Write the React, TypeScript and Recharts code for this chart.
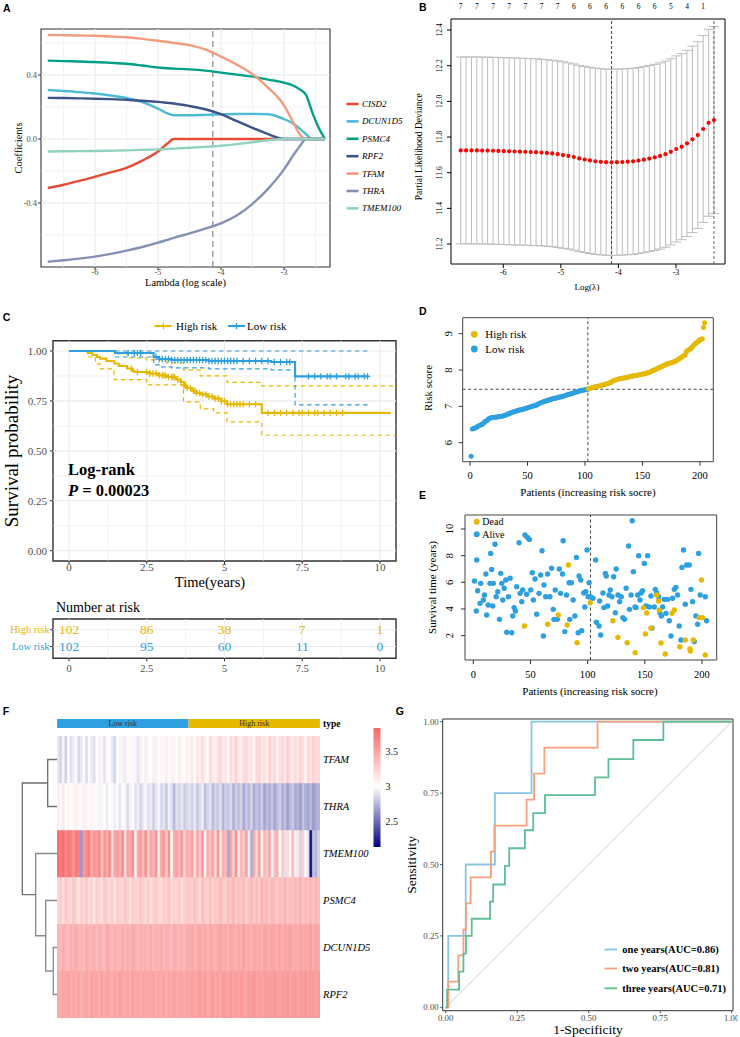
import React from 'react';
import {
  LineChart, Line, XAxis, YAxis, ReferenceLine, ReferenceArea,
  ScatterChart, Scatter, ErrorBar, ComposedChart, BarChart, Bar, Cell, LabelList,
} from 'recharts';

const SERIF = '"Liberation Serif", "DejaVu Serif", serif';
const SANS = '"Liberation Sans", "DejaVu Sans", sans-serif';
const HIGH_COLOR = '#E7B800';
const LOW_COLOR = '#2E9FDF';
const GRID = '#EBEBEB';

/* ================= Panel A : LASSO coefficient paths ================= */
const lassoGenes = ['CISD2', 'DCUN1D5', 'PSMC4', 'RPF2', 'TFAM', 'THRA', 'TMEM100'];
const lassoColors = ['#E64B35', '#4DBBD5', '#00A087', '#3C5488', '#F39B7F', '#8491B4', '#91D1C2'];
const lassoLogLambda = [-6.75, -6.5, -6.25, -6.0, -5.75, -5.5, -5.25, -5.0, -4.85, -4.75, -4.5, -4.25, -4.0, -3.75, -3.5, -3.25, -3.0, -2.85, -2.75, -2.65, -2.55, -2.45, -2.35];
const coefCISD2 = [-0.306, -0.286, -0.262, -0.236, -0.209, -0.18, -0.135, -0.078, -0.028, 0, 0, 0, 0, 0, 0, 0, 0, 0, 0, 0, 0, 0, 0];
const coefDCUN1D5 = [0.306, 0.3, 0.293, 0.284, 0.272, 0.256, 0.23, 0.19, 0.16, 0.148, 0.148, 0.151, 0.154, 0.156, 0.157, 0.155, 0.125, 0.095, 0.065, 0.03, 0, 0, 0];
const coefPSMC4 = [0.49, 0.487, 0.484, 0.481, 0.476, 0.47, 0.459, 0.447, 0.442, 0.44, 0.435, 0.427, 0.415, 0.402, 0.39, 0.371, 0.352, 0.333, 0.31, 0.275, 0.165, 0.07, 0];
const coefRPF2 = [0.257, 0.256, 0.254, 0.252, 0.249, 0.245, 0.239, 0.232, 0.226, 0.222, 0.206, 0.186, 0.155, 0.112, 0.07, 0.03, 0, 0, 0, 0, 0, 0, 0];
const coefTFAM = [0.65, 0.649, 0.647, 0.645, 0.641, 0.636, 0.626, 0.614, 0.606, 0.6, 0.587, 0.56, 0.515, 0.465, 0.405, 0.32, 0.21, 0.1, 0.03, 0, 0, 0, 0];
const coefTHRA = [-0.767, -0.758, -0.748, -0.735, -0.718, -0.698, -0.675, -0.648, -0.63, -0.618, -0.59, -0.56, -0.527, -0.478, -0.405, -0.31, -0.19, -0.1, -0.045, 0, 0, 0, 0];
const coefTMEM100 = [-0.078, -0.077, -0.076, -0.075, -0.073, -0.071, -0.068, -0.065, -0.062, -0.06, -0.055, -0.049, -0.042, -0.032, -0.02, -0.008, 0, 0, 0, 0, 0, 0, 0];
const lassoCoefs = [coefCISD2, coefDCUN1D5, coefPSMC4, coefRPF2, coefTFAM, coefTHRA, coefTMEM100];
const lassoSelectedLambda = -4.13;
const aXTicks = [-6, -5, -4, -3];
const aXMinor = [-6.5, -5.5, -4.5, -3.5, -2.5];
const aYTicks = [-0.4, 0, 0.4];
const aYMinor = [-0.6, -0.2, 0.2, 0.6];

/* ================= Panel B : cross-validation ================= */
const cvLogLambda = [-6.74, -6.646, -6.553, -6.459, -6.366, -6.272, -6.178, -6.085, -5.991, -5.898, -5.804, -5.71, -5.617, -5.523, -5.43, -5.336, -5.242, -5.149, -5.055, -4.962, -4.868, -4.774, -4.681, -4.587, -4.494, -4.4, -4.306, -4.213, -4.119, -4.026, -3.932, -3.838, -3.745, -3.651, -3.558, -3.464, -3.37, -3.277, -3.183, -3.09, -2.996, -2.902, -2.809, -2.715, -2.622, -2.528, -2.434, -2.341];
const cvMean = [11.725, 11.725, 11.725, 11.725, 11.724, 11.724, 11.723, 11.722, 11.721, 11.72, 11.719, 11.718, 11.717, 11.716, 11.715, 11.713, 11.711, 11.708, 11.704, 11.699, 11.694, 11.688, 11.68, 11.674, 11.669, 11.664, 11.661, 11.659, 11.658, 11.659, 11.66, 11.662, 11.664, 11.668, 11.673, 11.679, 11.686, 11.694, 11.704, 11.717, 11.733, 11.746, 11.764, 11.787, 11.811, 11.845, 11.88, 11.895];
const cvSd = [0.524, 0.524, 0.524, 0.524, 0.524, 0.524, 0.524, 0.524, 0.524, 0.524, 0.524, 0.524, 0.524, 0.524, 0.524, 0.523, 0.523, 0.523, 0.523, 0.523, 0.522, 0.522, 0.522, 0.522, 0.522, 0.522, 0.522, 0.522, 0.522, 0.522, 0.522, 0.522, 0.522, 0.522, 0.522, 0.522, 0.522, 0.522, 0.522, 0.522, 0.522, 0.522, 0.522, 0.523, 0.523, 0.524, 0.524, 0.525];
const cvTopTicks = [-6.74, -6.459, -6.178, -5.898, -5.617, -5.336, -5.055, -4.774, -4.494, -4.213, -3.932, -3.651, -3.37, -3.09, -2.809, -2.528];
const cvNonzero = [7, 7, 7, 7, 7, 7, 7, 6, 6, 6, 6, 6, 6, 5, 4, 1];
const cvLambdaMin = -4.119;
const cvLambda1se = -2.341;
const bXTicks = [-6, -5, -4, -3];
const bYTicks = [11.2, 11.4, 11.6, 11.8, 12.0, 12.2, 12.4];

/* ================= Panel C : Kaplan-Meier ================= */
const kmHighTime = [0, 0.6, 0.75, 0.9, 1.0, 1.2, 1.45, 1.6, 1.87, 2.05, 2.1, 2.6, 2.9, 3.15, 3.45, 3.6, 3.7, 3.8, 3.95, 4.1, 4.22, 4.45, 4.65, 4.9, 5.08, 6.2, 10.35];
const kmHighSurv = [1, 0.99, 0.98, 0.97, 0.962, 0.95, 0.937, 0.925, 0.912, 0.9, 0.895, 0.887, 0.878, 0.87, 0.857, 0.845, 0.827, 0.815, 0.8, 0.79, 0.783, 0.772, 0.762, 0.748, 0.733, 0.69, 0.69];
const kmLowTime = [0, 1.48, 2.72, 2.9, 3.3, 4.5, 6.5, 7.27, 9.63];
const kmLowSurv = [1, 0.99, 0.97, 0.96, 0.955, 0.95, 0.945, 0.873, 0.873];
const ciHighUpTime = [0.6, 1.45, 1.9, 2.5, 3.15, 3.68, 4.22, 5.08, 6.2, 10.5];
const ciHighUp = [1, 0.985, 0.965, 0.955, 0.94, 0.905, 0.875, 0.843, 0.825, 0.825];
const ciHighLoTime = [0.6, 0.85, 1.0, 1.45, 2.5, 3.68, 4.22, 4.65, 5.08, 6.2, 10.5];
const ciHighLo = [0.97, 0.935, 0.91, 0.857, 0.83, 0.745, 0.71, 0.69, 0.645, 0.578, 0.578];
const ciLowUpTime = [1.48, 9.63];
const ciLowUp = [1, 1];
const ciLowLoTime = [1.48, 2.72, 2.9, 3.3, 4.5, 6.5, 7.27, 9.63];
const ciLowLo = [0.97, 0.93, 0.92, 0.915, 0.91, 0.905, 0.73, 0.73];
const kmHighCensor = [2.0, 2.2, 2.5, 2.6, 2.7, 2.8, 2.9, 3.0, 3.05, 3.1, 3.2, 3.3, 3.35, 3.4, 3.5, 3.6, 3.7, 3.75, 3.8, 3.9, 4.0, 4.05, 4.1, 4.2, 4.3, 4.4, 4.5, 4.6, 4.7, 4.8, 4.9, 5.0, 5.1, 5.2, 5.3, 5.4, 5.5, 5.6, 5.8, 6.0, 6.4, 6.6, 6.8, 7.0, 7.2, 7.4, 7.5, 7.7, 7.9, 8.0, 8.2, 8.4, 8.6, 8.8];
const kmLowCensor = [1.9, 2.1, 2.2, 2.3, 2.8, 2.9, 3.0, 3.1, 3.2, 3.3, 3.4, 3.5, 3.6, 3.7, 3.8, 3.9, 4.0, 4.1, 4.2, 4.3, 4.4, 4.5, 4.6, 4.7, 4.8, 4.9, 5.0, 5.1, 5.2, 5.3, 5.4, 5.6, 5.8, 6.0, 6.2, 6.4, 6.6, 6.8, 7.0, 7.1, 7.7, 7.9, 8.1, 8.3, 8.4, 8.6, 8.9, 9.0, 9.2, 9.3, 9.5, 9.6];
const cXTicks = [0, 2.5, 5, 7.5, 10];
const cXMinor = [1.25, 3.75, 6.25, 8.75];
const cYTicks = [0, 0.25, 0.5, 0.75, 1];
const cYMinor = [0.125, 0.375, 0.625, 0.875];
const riskTableTimes = [0, 2.5, 5, 7.5, 10];
const riskTableHigh = [102, 86, 38, 7, 1];
const riskTableLow = [102, 95, 60, 11, 0];

/* ================= Panel D : risk score ================= */
const riskScores = [
  5.63, 6.38, 6.39, 6.40, 6.41, 6.43, 6.45, 6.47, 6.48, 6.50,
  6.52, 6.54, 6.58, 6.60, 6.62, 6.65, 6.67, 6.68, 6.69, 6.69,
  6.70, 6.70, 6.71, 6.71, 6.72, 6.72, 6.73, 6.73, 6.74, 6.75,
  6.76, 6.77, 6.79, 6.80, 6.81, 6.83, 6.84, 6.85, 6.86, 6.87,
  6.88, 6.89, 6.90, 6.91, 6.91, 6.92, 6.93, 6.94, 6.95, 6.96,
  6.97, 6.98, 6.99, 7.00, 7.01, 7.02, 7.03, 7.04, 7.06, 7.08,
  7.09, 7.10, 7.12, 7.13, 7.14, 7.15, 7.16, 7.17, 7.18, 7.19,
  7.20, 7.21, 7.22, 7.22, 7.23, 7.24, 7.25, 7.26, 7.26, 7.27,
  7.28, 7.29, 7.30, 7.31, 7.32, 7.33, 7.34, 7.35, 7.36, 7.37,
  7.38, 7.39, 7.40, 7.41, 7.42, 7.43, 7.44, 7.44, 7.45, 7.46, 7.46, 7.47,
  7.48, 7.49, 7.50, 7.51, 7.52, 7.53, 7.54, 7.55,
  7.55, 7.56, 7.57, 7.58, 7.59, 7.59, 7.60, 7.61, 7.62, 7.63,
  7.64, 7.65, 7.67, 7.69, 7.71, 7.72, 7.73, 7.74, 7.75, 7.76,
  7.76, 7.77, 7.78, 7.78, 7.79, 7.79, 7.80, 7.81, 7.82, 7.83,
  7.83, 7.84, 7.84, 7.85, 7.85, 7.86, 7.87, 7.88, 7.88, 7.89,
  7.90, 7.90, 7.91, 7.92, 7.93, 7.94, 7.95, 7.97, 7.98, 8.00,
  8.01, 8.03, 8.04, 8.06, 8.07, 8.09, 8.10, 8.12, 8.13, 8.15,
  8.16, 8.17, 8.18, 8.19, 8.20, 8.21, 8.22, 8.24, 8.25, 8.27,
  8.29, 8.31, 8.33, 8.35, 8.38, 8.40, 8.41, 8.50, 8.53, 8.55,
  8.57, 8.59, 8.62, 8.66, 8.70, 8.73, 8.75, 8.78, 8.80, 8.84,
  8.85, 8.86, 9.17, 9.30,
];
const lowRiskCount = 102;
const riskCutoff = 7.47;
const dXTicks = [0, 50, 100, 150, 200];
const dYTicks = [6, 7, 8, 9];

/* ================= Panel E : survival status ================= */
const alivePoints = [
  [1, 6.1], [3, 7.67], [2.6, 3.85], [3.8, 5.37], [5.9, 4.42], [6.5, 5.92], [8.8, 4.67], [9.7, 5.05], [11, 6.62], [11.7, 3.55],
  [13, 4.3], [14.6, 5.92], [15.2, 8.17], [16, 6.97], [17, 4.22], [17.5, 5.92], [19, 8.85], [20, 4.92], [21.4, 5.3], [22.9, 3.22],
  [24, 6.67], [24.9, 5.92], [25.8, 4.67], [27, 5.55], [28.4, 6.17], [29.3, 2.25], [30.7, 4.92], [32.2, 6.3], [33.6, 2.22], [34.5, 3.47],
  [35.7, 4.1], [36.8, 3.85], [38, 5.67], [40, 8.97], [40.9, 5.17], [42.4, 4.55], [43.2, 5.42], [45.2, 9.55], [46.7, 5.1], [47.3, 9.37],
  [49, 9.22], [50.2, 5.42], [51.6, 6.72], [52.5, 4.67], [54, 6.25], [55.4, 3.6], [57.5, 5.17], [58.9, 6.55], [60.1, 8.37], [61.3, 1.97],
  [61.8, 5.8], [63.3, 4.92], [65, 6.62], [67, 4.92], [68.5, 7.05], [69.9, 3.97], [70.5, 3.22], [71.7, 5.42], [73.4, 3.22], [75.2, 7.0],
  [76.3, 5.17], [78, 6.62], [78.6, 9.12], [80, 2.3], [81.5, 5.05], [83.8, 5.97], [84.4, 3.22], [85.8, 5.97], [87.3, 4.67], [88.8, 3.47],
  [90.2, 7.87], [91.7, 2.22], [92.5, 6.47], [94, 6.17], [94.8, 2.37], [96.6, 5.2], [97.5, 4.15], [98.4, 5.3], [99.5, 8.42], [100.4, 4.92],
  [101.3, 5.97], [102.5, 4.92],
  [104.7, 4.8], [107, 7.67], [107.6, 3.0], [110, 2.72], [110.5, 4.6], [111.4, 2.05], [113.4, 5.2], [114.3, 4.1], [115.5, 6.67], [116.3, 6.47],
  [117.5, 4.22], [118.7, 5.05], [119.8, 5.42], [121.3, 4.92], [122.7, 6.42], [124.2, 3.72], [125, 7.0], [126.5, 5.05], [128, 4.55], [129.4, 4.92],
  [130.8, 3.35], [132.3, 3.22], [133.7, 5.55], [135.8, 8.72], [136.6, 3.97], [138, 5.05], [139, 10.62], [140, 6.8], [141.5, 4.15], [142.4, 4.1],
  [143.8, 5.05], [144.7, 8.0], [145.8, 4.67], [146.7, 5.2], [148.1, 5.37], [149.6, 7.42], [151, 4.22], [152.5, 8.0], [154, 4.15], [155.4, 4.97],
  [156.3, 2.55], [158.3, 4.15], [159.2, 5.47], [160.4, 5.2], [162.1, 4.92], [163.3, 3.72], [164.5, 3.47], [165.6, 4.15], [167, 4.72], [168.5, 3.67],
  [170, 4.72], [171.4, 3.12], [172.9, 1.97], [174.3, 4.8], [175.8, 5.47], [177.2, 5.62], [178.7, 5.05], [180.1, 2.72], [181.6, 1.67], [182.5, 7.12],
  [183.9, 8.42], [185.4, 4.35], [186.6, 7.3], [188.9, 7.3], [190.4, 5.47], [191.8, 4.55], [193.3, 1.55], [194.7, 3.47], [196.2, 2.85], [197.1, 8.17],
  [198.5, 5.05], [202.9, 4.92], [204, 3.12],
];
const deadPoints = [
  [44.7, 2.72], [65, 2.85], [74.3, 3.55], [82.1, 2.8], [83.2, 7.3], [90.8, 1.47], [102.2, 4.47], [122.1, 3.12], [126.5, 1.87], [134.6, 1.47],
  [148.8, 4.1], [151.7, 3.7], [150.5, 2.12], [155.4, 2.55], [160.4, 5.05], [162, 4.6], [162.7, 3.92], [164.1, 1.45], [173.8, 3.67], [175.8, 3.92],
  [180.7, 1.17], [185.4, 1.67], [189.5, 1.0], [192.4, 1.67], [197.6, 3.35], [200.5, 3.35], [199.6, 6.17], [141.6, 0.72], [167.9, 0.62], [189.8, 0.85],
  [202.9, 0.55],
];
const eYTicks = [2, 4, 6, 8, 10];

/* ================= Panel F : heatmap (102 columns, low risk | high risk) ================= */
const heatGenes = ['TFAM', 'THRA', 'TMEM100', 'PSMC4', 'DCUN1D5', 'RPF2'];
const exprTFAM = [
  2.92, 2.86, 2.97, 2.84, 3.01, 2.9, 2.95, 3.03, 2.87, 2.93, 2.99, 2.88, 3.04, 2.94, 2.89, 3.0, 2.96, 3.06, 2.91, 2.98,
  3.02, 2.93, 2.86, 3.0, 2.97, 3.07, 2.94, 3.03, 2.99, 3.05, 2.97, 2.91, 3.08, 3.01, 2.95, 3.04, 2.99, 3.09, 2.96, 3.02,
  3.06, 2.98, 3.1, 3.03, 2.97, 3.07, 3.0, 3.11, 3.04, 2.99, 3.08,
  3.05, 3.13, 3.0, 3.16, 3.08, 3.19, 3.1, 3.03, 3.21, 3.12, 3.07, 3.17, 3.23, 3.09, 3.14, 3.04, 3.2, 3.11, 3.26, 3.13,
  3.08, 3.18, 3.22, 3.1, 3.15, 3.05, 3.21, 3.24, 3.12, 3.18, 3.09, 3.25, 3.14, 3.2, 3.07, 3.16, 3.23, 3.11, 3.27, 3.15,
  3.09, 3.2, 3.13, 3.24, 3.17, 3.06, 3.22, 3.14, 3.26, 3.19, 3.21];
const exprTHRA = [
  3.08, 3.04, 3.11, 3.02, 3.07, 3.0, 3.05, 3.1, 2.98, 3.04, 3.08, 2.97, 3.02, 3.06, 2.99, 3.03, 2.96, 3.05, 3.01, 2.94,
  3.0, 3.04, 2.95, 2.99, 2.92, 3.02, 2.97, 2.88, 2.96, 3.0, 2.9, 2.95, 2.86, 2.93, 2.98, 2.89, 2.94, 2.84, 2.92, 2.97,
  2.87, 2.91, 2.82, 2.95, 2.89, 2.76, 2.9, 2.85, 2.93, 2.83, 2.88,
  2.9, 2.84, 2.93, 2.81, 2.88, 2.95, 2.79, 2.86, 2.91, 2.77, 2.85, 2.82, 2.9, 2.75, 2.84, 2.8, 2.88, 2.73, 2.83, 2.78,
  2.86, 2.71, 2.82, 2.76, 2.85, 2.72, 2.8, 2.74, 2.83, 2.69, 2.78, 2.73, 2.81, 2.7, 2.77, 2.84, 2.72, 2.79, 2.68, 2.76,
  2.82, 2.71, 2.75, 2.67, 2.8, 2.73, 2.7, 2.77, 2.66, 2.72, 2.75];
const exprTMEM100 = [
  3.78, 3.72, 3.8, 3.65, 3.75, 3.7, 3.58, 3.74, 3.68, 2.65, 3.55, 3.62, 3.7, 3.45, 3.6, 3.52, 3.66, 3.3, 3.58, 3.48,
  3.62, 3.2, 3.5, 3.57, 3.4, 3.64, 3.15, 3.52, 3.45, 3.6, 3.05, 3.48, 3.55, 3.35, 3.62, 3.25, 3.5, 3.42, 3.58, 3.1,
  3.47, 3.55, 3.3, 3.6, 3.0, 3.44, 3.52, 3.38, 3.56, 3.22, 3.46,
  3.4, 3.52, 3.15, 3.48, 3.3, 3.56, 3.05, 3.44, 3.35, 3.5, 3.2, 3.58, 3.1, 3.45, 3.38, 2.7, 3.5, 3.25, 3.6, 3.12,
  3.42, 3.3, 3.54, 2.95, 2.72, 3.46, 3.2, 3.55, 3.05, 3.4, 3.28, 3.5, 2.98, 3.35, 3.45, 3.0, 3.3, 2.9, 3.2, 3.05,
  3.38, 2.95, 3.15, 2.85, 3.25, 3.0, 2.9, 2.2, 2.8, 2.75, 2.85];
const exprPSMC4 = [
  3.22, 3.28, 3.17, 3.3, 3.25, 3.19, 3.32, 3.24, 3.14, 3.27, 3.21, 3.3, 3.18, 3.26, 3.12, 3.28, 3.23, 3.17, 3.3, 3.25,
  3.2, 3.27, 3.15, 3.29, 3.24, 3.21, 3.31, 3.26, 3.18, 3.28, 3.25, 3.22, 3.31, 3.27, 3.2, 3.29, 3.16, 3.26, 3.3, 3.23,
  3.19, 3.28, 3.25, 3.32, 3.21, 3.27, 3.24, 3.3, 3.18, 3.26, 3.29,
  3.3, 3.26, 3.34, 3.28, 3.22, 3.35, 3.3, 3.27, 3.36, 3.24, 3.32, 3.29, 3.38, 3.3, 3.26, 3.35, 3.31, 3.4, 3.28, 3.34,
  3.3, 3.37, 3.25, 3.33, 3.39, 3.3, 3.36, 3.28, 3.42, 3.34, 3.38, 3.31, 3.4, 3.35, 3.29, 3.37, 3.33, 3.41, 3.3, 3.36,
  3.32, 3.39, 3.34, 3.43, 3.31, 3.38, 3.35, 3.41, 3.33, 3.4, 3.37];
const exprDCUN1D5 = [
  3.42, 3.38, 3.45, 3.4, 3.36, 3.44, 3.41, 3.47, 3.39, 3.43, 3.37, 3.46, 3.42, 3.4, 3.45, 3.38, 3.44, 3.41, 3.36, 3.47,
  3.43, 3.39, 3.45, 3.42, 3.4, 3.46, 3.38, 3.44, 3.41, 3.47, 3.43, 3.39, 3.45, 3.42, 3.44, 3.4, 3.46, 3.38, 3.43, 3.41,
  3.47, 3.39, 3.45, 3.42, 3.37, 3.46, 3.43, 3.4, 3.44, 3.38, 3.45,
  3.44, 3.48, 3.41, 3.46, 3.5, 3.43, 3.47, 3.4, 3.49, 3.45, 3.42, 3.48, 3.51, 3.44, 3.47, 3.41, 3.5, 3.46, 3.43, 3.49,
  3.45, 3.52, 3.44, 3.47, 3.42, 3.5, 3.46, 3.48, 3.43, 3.51, 3.47, 3.45, 3.5, 3.48, 3.46, 3.5, 3.44, 3.49, 3.47, 3.52,
  3.45, 3.48, 3.43, 3.51, 3.46, 3.49, 3.47, 3.53, 3.45, 3.5, 3.48];
const exprRPF2 = [
  3.48, 3.45, 3.5, 3.47, 3.52, 3.44, 3.49, 3.46, 3.51, 3.43, 3.48, 3.5, 3.45, 3.53, 3.47, 3.49, 3.44, 3.52, 3.46, 3.5,
  3.48, 3.45, 3.51, 3.47, 3.53, 3.49, 3.46, 3.5, 3.44, 3.52, 3.48, 3.5, 3.47, 3.51, 3.46, 3.5, 3.48, 3.52, 3.45, 3.49,
  3.47, 3.51, 3.44, 3.5, 3.48, 3.53, 3.46, 3.49, 3.51, 3.47, 3.5,
  3.5, 3.53, 3.48, 3.52, 3.55, 3.49, 3.54, 3.47, 3.51, 3.56, 3.5, 3.53, 3.48, 3.55, 3.52, 3.5, 3.57, 3.51, 3.54, 3.49,
  3.56, 3.52, 3.5, 3.55, 3.53, 3.58, 3.51, 3.54, 3.5, 3.56, 3.53, 3.55, 3.52, 3.57, 3.53, 3.5, 3.55, 3.52, 3.57, 3.51,
  3.54, 3.56, 3.5, 3.55, 3.53, 3.58, 3.52, 3.54, 3.56, 3.51, 3.55];
const heatExpr = [exprTFAM, exprTHRA, exprTMEM100, exprPSMC4, exprDCUN1D5, exprRPF2];
const heatScaleMin = 2.14;
const heatScaleMid = 3.0;
const heatScaleMax = 3.84;
const heatLegendTicks = [3.5, 3, 2.5];
const groupCounts = [102, 102];
const groupNames = ['Low risk', 'High risk'];
const dendroMerges = [[-5, -6, 0.92], [-1, -2, 2.31], [-4, 1, 2.8], [-3, 3, 5.29], [2, 4, 8.61]];

/* ================= Panel G : ROC ================= */
const rocOne = [[0, 0], [0.009, 0], [0.009, 0.25], [0.07, 0.25], [0.07, 0.5], [0.172, 0.5], [0.172, 0.75], [0.3, 0.75], [0.3, 1], [1, 1]];
const rocTwo = [[0, 0], [0.009, 0], [0.009, 0.09], [0.044, 0.09], [0.044, 0.182], [0.062, 0.182], [0.062, 0.273], [0.071, 0.273], [0.071, 0.364], [0.087, 0.364], [0.087, 0.455], [0.158, 0.455], [0.158, 0.545], [0.17, 0.545], [0.17, 0.636], [0.283, 0.636], [0.283, 0.727], [0.309, 0.727], [0.309, 0.818], [0.345, 0.818], [0.345, 0.909], [0.531, 0.909], [0.531, 1], [1, 1]];
const rocThree = [[0, 0], [0.005, 0], [0.005, 0.062], [0.047, 0.062], [0.047, 0.125], [0.062, 0.125], [0.062, 0.188], [0.071, 0.188], [0.071, 0.25], [0.091, 0.25], [0.091, 0.31], [0.155, 0.31], [0.155, 0.37], [0.166, 0.37], [0.166, 0.43], [0.207, 0.43], [0.207, 0.495], [0.222, 0.495], [0.222, 0.557], [0.277, 0.557], [0.277, 0.62], [0.306, 0.62], [0.306, 0.68], [0.347, 0.68], [0.347, 0.743], [0.522, 0.743], [0.522, 0.805], [0.569, 0.805], [0.569, 0.869], [0.656, 0.869], [0.656, 0.936], [0.761, 0.936], [0.761, 1], [1, 1]];
const rocLabels = ['one years(AUC=0.86)', 'two years(AUC=0.81)', 'three years(AUC=0.71)'];
const rocColors = ['#86C5E6', '#F8A07E', '#5DBF95'];
const gTicks = [0, 0.25, 0.5, 0.75, 1];

/* ================= helpers ================= */
const fmt0 = (v: number) => String(v);
const fmt1 = (v: number) => v.toFixed(1);
const fmt2 = (v: number) => v.toFixed(2);

const bottomTick = (fs: number, fill: string, f: (v: number) => string = fmt0) => (p: any) => (
  <text x={p.x} y={p.y} textAnchor="middle" dominantBaseline="central" fontSize={fs} fill={fill} fontFamily={SERIF}>{f(p.payload.value)}</text>
);
const leftTick = (fs: number, fill: string, f: (v: number) => string = fmt0) => (p: any) => (
  <text x={p.x} y={p.y} textAnchor="end" dominantBaseline="central" fontSize={fs} fill={fill} fontFamily={SERIF}>{f(p.payload.value)}</text>
);
const rotTick = (fs: number, fill: string, f: (v: number) => string = fmt0) => (p: any) => (
  <text x={p.x} y={p.y} transform={`rotate(-90 ${p.x} ${p.y})`} textAnchor="middle" dominantBaseline="central" fontSize={fs} fill={fill} fontFamily={SERIF}>{f(p.payload.value)}</text>
);

const toXY = (xs: number[], ys: number[]) => xs.map((x, i) => ({ x, y: ys[i] }));
const stepAt = (ts: number[], ss: number[], t: number) => {
  let v = ss[0];
  ts.forEach((tt, i) => { if (tt <= t) v = ss[i]; });
  return v;
};

function heatColor(v: number) {
  const white = [255, 255, 255];
  const navy = [0, 0, 128];
  const red = [248, 102, 102];
  let target = red;
  let t = 0;
  if (v >= heatScaleMid) { t = Math.min(1, (v - heatScaleMid) / (heatScaleMax - heatScaleMid)); target = red; }
  else { t = Math.min(1, (heatScaleMid - v) / (heatScaleMid - heatScaleMin)); target = navy; }
  const c = white.map((w, i) => Math.round(w + (target[i] - w) * t));
  return `rgb(${c[0]},${c[1]},${c[2]})`;
}

function dendroSegments() {
  const nodes: { y: number; h: number }[] = [];
  const get = (id: number) => (id < 0 ? { y: -id - 1 + 0.5, h: 0 } : nodes[id - 1]);
  return dendroMerges.map(([a, b, h]) => {
    const A = get(a);
    const B = get(b);
    nodes.push({ y: (A.y + B.y) / 2, h });
    return [{ x: A.h, y: A.y }, { x: h, y: A.y }, { x: h, y: B.y }, { x: B.h, y: B.y }];
  });
}

const abs = (left: number, top: number): React.CSSProperties => ({ position: 'absolute', left, top });

/* ================= Panels ================= */
function PanelA() {
  const xd: [number, number] = [-6.857, -2.27];
  const yd: [number, number] = [-0.8, 0.6875];
  return (
    <div style={abs(0, 0)}>
      <LineChart width={340} height={300} margin={{ top: 29, right: 10, bottom: 0, left: 0 }}>
        <XAxis type="number" dataKey="x" domain={xd} allowDataOverflow ticks={aXTicks} interval={0} height={33} tickSize={3} tickMargin={2}
          tick={bottomTick(8.5, '#4D4D4D')} axisLine={false} tickLine={{ stroke: '#333' }} />
        <YAxis type="number" dataKey="y" domain={yd} allowDataOverflow ticks={aYTicks} interval={0} width={41} tickSize={3} tickMargin={1}
          tick={leftTick(8.5, '#4D4D4D', fmt1)} axisLine={false} tickLine={{ stroke: '#333' }} />
        {aXMinor.map((v) => <ReferenceLine key={'xm' + v} x={v} stroke={GRID} strokeWidth={0.6} />)}
        {aYMinor.map((v) => <ReferenceLine key={'ym' + v} y={v} stroke={GRID} strokeWidth={0.6} />)}
        {aXTicks.map((v) => <ReferenceLine key={'xg' + v} x={v} stroke={GRID} strokeWidth={1.1} />)}
        {aYTicks.map((v) => <ReferenceLine key={'yg' + v} y={v} stroke={GRID} strokeWidth={1.1} />)}
        <ReferenceLine x={lassoSelectedLambda} stroke="#8C8C8C" strokeDasharray="6 4" strokeWidth={1.2} />
        {lassoGenes.map((g, gi) => (
          <Line key={g} data={toXY(lassoLogLambda, lassoCoefs[gi])} dataKey="y" type="monotone" stroke={lassoColors[gi]}
            strokeWidth={2.4} dot={false} isAnimationActive={false} />
        ))}
        <ReferenceArea x1={xd[0]} x2={xd[1]} y1={yd[0]} y2={yd[1]} fill="none" stroke="#333" strokeWidth={1.1} ifOverflow="visible" />
      </LineChart>
    </div>
  );
}

function PanelB() {
  const xd: [number, number] = [-6.908, -2.149];
  const yd: [number, number] = [11.088, 12.462];
  const data = cvLogLambda.map((x, i) => ({ x, y: cvMean[i], err: cvSd[i] }));
  return (
    <div style={abs(380, 0)}>
      <ScatterChart width={355} height={300} margin={{ top: 0, right: 10, bottom: 0, left: 0 }}>
        <XAxis xAxisId="top" orientation="top" type="number" dataKey="x" domain={xd} allowDataOverflow ticks={cvTopTicks} interval={0}
          height={19} tickSize={0} tickMargin={13} axisLine={false} tickLine={false}
          tick={(p: any) => (
            <text x={p.x} y={p.y} textAnchor="middle" dominantBaseline="central" fontSize={7.5} fill="#000" fontFamily={SERIF}>
              {cvNonzero[cvTopTicks.indexOf(p.payload.value)]}
            </text>
          )} />
        <XAxis type="number" dataKey="x" domain={xd} allowDataOverflow ticks={bXTicks} interval={0} height={36} tickSize={4} tickMargin={4}
          tick={bottomTick(8, '#000')} axisLine={false} tickLine={{ stroke: '#000' }} />
        <YAxis type="number" dataKey="y" domain={yd} allowDataOverflow ticks={bYTicks} interval={0} width={71} tickSize={4} tickMargin={7}
          tick={rotTick(7.5, '#000', fmt1)} axisLine={false} tickLine={{ stroke: '#000' }} />
        <Scatter xAxisId="top" data={data} shape={() => <g />} isAnimationActive={false} />
        <Scatter data={data} isAnimationActive={false}
          shape={(p: any) => <circle cx={p.cx} cy={p.cy} r={2.1} fill="#FF0000" />}>
          <ErrorBar dataKey="err" direction="y" width={5} stroke="#BDBDBD" strokeWidth={1} />
        </Scatter>
        <ReferenceLine x={cvLambdaMin} stroke="#333" strokeDasharray="3 2" strokeWidth={0.9} />
        <ReferenceLine x={cvLambda1se} stroke="#555" strokeDasharray="3 2" strokeWidth={0.9} />
        <ReferenceArea x1={xd[0]} x2={xd[1]} y1={yd[0]} y2={yd[1]} fill="none" stroke="#000" strokeWidth={1} ifOverflow="visible" />
      </ScatterChart>
    </div>
  );
}

const crossShape = (color: string) => (p: any) => (
  <path d={`M${p.cx - 2.6},${p.cy}h5.2M${p.cx},${p.cy - 3.2}v6.4`} stroke={color} strokeWidth={1.3} fill="none" />
);

function PanelC() {
  const xd: [number, number] = [-0.515, 10.515];
  const yd: [number, number] = [-0.0515, 1.0515];
  const highCens = kmHighCensor.map((t) => ({ x: t, y: stepAt(kmHighTime, kmHighSurv, t) }));
  const lowCens = kmLowCensor.map((t) => ({ x: t, y: stepAt(kmLowTime, kmLowSurv, t) }));
  return (
    <div style={abs(0, 330)}>
      <ComposedChart width={400} height={265} margin={{ top: 10.7, right: 4, bottom: 0, left: 0 }}>
        <XAxis type="number" dataKey="x" domain={xd} allowDataOverflow ticks={cXTicks} interval={0} height={34} tickSize={3} tickMargin={3.3}
          tick={bottomTick(11, '#4D4D4D')} axisLine={false} tickLine={{ stroke: '#333' }} />
        <YAxis type="number" dataKey="y" domain={yd} allowDataOverflow ticks={cYTicks} interval={0} width={53} tickSize={3} tickMargin={3}
          tick={leftTick(11, '#4D4D4D', fmt2)} axisLine={false} tickLine={{ stroke: '#333' }} />
        {cXMinor.map((v) => <ReferenceLine key={'xm' + v} x={v} stroke={GRID} strokeWidth={0.6} />)}
        {cYMinor.map((v) => <ReferenceLine key={'ym' + v} y={v} stroke={GRID} strokeWidth={0.6} />)}
        {cXTicks.map((v) => <ReferenceLine key={'xg' + v} x={v} stroke={GRID} strokeWidth={1.1} />)}
        {cYTicks.map((v) => <ReferenceLine key={'yg' + v} y={v} stroke={GRID} strokeWidth={1.1} />)}
        <Line data={toXY(ciHighUpTime, ciHighUp)} dataKey="y" type="stepAfter" stroke={HIGH_COLOR} strokeWidth={1.2} strokeDasharray="4.5 3.5" dot={false} isAnimationActive={false} />
        <Line data={toXY(ciHighLoTime, ciHighLo)} dataKey="y" type="stepAfter" stroke={HIGH_COLOR} strokeWidth={1.2} strokeDasharray="4.5 3.5" dot={false} isAnimationActive={false} />
        <Line data={toXY(ciLowUpTime, ciLowUp)} dataKey="y" type="stepAfter" stroke={LOW_COLOR} strokeWidth={1.2} strokeDasharray="4.5 3.5" dot={false} isAnimationActive={false} />
        <Line data={toXY(ciLowLoTime, ciLowLo)} dataKey="y" type="stepAfter" stroke={LOW_COLOR} strokeWidth={1.2} strokeDasharray="4.5 3.5" dot={false} isAnimationActive={false} />
        <Line data={toXY(kmHighTime, kmHighSurv)} dataKey="y" type="stepAfter" stroke={HIGH_COLOR} strokeWidth={2.1} dot={false} isAnimationActive={false} />
        <Line data={toXY(kmLowTime, kmLowSurv)} dataKey="y" type="stepAfter" stroke={LOW_COLOR} strokeWidth={2.1} dot={false} isAnimationActive={false} />
        <Scatter data={highCens} shape={crossShape(HIGH_COLOR)} isAnimationActive={false} />
        <Scatter data={lowCens} shape={crossShape(LOW_COLOR)} isAnimationActive={false} />
        <ReferenceArea x1={xd[0]} x2={xd[1]} y1={yd[0]} y2={yd[1]} fill="none" stroke="#333" strokeWidth={1.4} ifOverflow="visible" />
      </ComposedChart>
    </div>
  );
}

function RiskTable() {
  const xd: [number, number] = [-0.515, 10.515];
  const yd: [number, number] = [0, 2];
  const rowHigh = 1.45;
  const rowLow = 0.6;
  const hi = riskTableTimes.map((t, i) => ({ x: t, y: rowHigh, n: riskTableHigh[i] }));
  const lo = riskTableTimes.map((t, i) => ({ x: t, y: rowLow, n: riskTableLow[i] }));
  const numShape = (color: string) => (p: any) => (
    <text x={p.cx} y={p.cy} textAnchor="middle" dominantBaseline="central" fontSize={13.5} fill={color} fontFamily={SERIF}>{p.payload.n}</text>
  );
  return (
    <div style={abs(0, 612)}>
      <ScatterChart width={400} height={66} margin={{ top: 7, right: 4, bottom: 0, left: 0 }}>
        <XAxis type="number" dataKey="x" domain={xd} allowDataOverflow ticks={cXTicks} interval={0} height={19.7} tickSize={3} tickMargin={6.7}
          tick={bottomTick(10.5, '#4D4D4D')} axisLine={false} tickLine={{ stroke: '#333' }} />
        <YAxis type="number" dataKey="y" domain={yd} allowDataOverflow ticks={[rowLow, rowHigh]} interval={0} width={53} tickSize={3} tickMargin={0.5}
          axisLine={false} tickLine={{ stroke: '#333' }}
          tick={(p: any) => (
            <text x={p.x} y={p.y} textAnchor="end" dominantBaseline="central" fontSize={10.5} fontFamily={SERIF}
              fill={p.payload.value === rowHigh ? HIGH_COLOR : LOW_COLOR}>{p.payload.value === rowHigh ? 'High risk' : 'Low risk'}</text>
          )} />
        {cXMinor.map((v) => <ReferenceLine key={'xm' + v} x={v} stroke={GRID} strokeWidth={0.6} />)}
        {cXTicks.map((v) => <ReferenceLine key={'xg' + v} x={v} stroke={GRID} strokeWidth={1.1} />)}
        <ReferenceLine y={rowHigh} stroke={GRID} strokeWidth={1.1} />
        <ReferenceLine y={rowLow} stroke={GRID} strokeWidth={1.1} />
        <Scatter data={hi} shape={numShape(HIGH_COLOR)} isAnimationActive={false} />
        <Scatter data={lo} shape={numShape(LOW_COLOR)} isAnimationActive={false} />
        <ReferenceArea x1={xd[0]} x2={xd[1]} y1={yd[0]} y2={yd[1]} fill="none" stroke="#333" strokeWidth={1.4} ifOverflow="visible" />
      </ScatterChart>
    </div>
  );
}

const dotShape = (color: string, r: number) => (p: any) => <circle cx={p.cx} cy={p.cy} r={r} fill={color} />;

function PanelD() {
  const xd: [number, number] = [-6.35, 211.57];
  const yd: [number, number] = [5.477, 9.44];
  const pts = riskScores.map((y, i) => ({ x: i + 1, y }));
  return (
    <div style={abs(400, 305)}>
      <ScatterChart width={320} height={200} margin={{ top: 12.7, right: 6.7, bottom: 0, left: 0 }}>
        <XAxis type="number" dataKey="x" domain={xd} allowDataOverflow ticks={dXTicks} interval={0} height={43.3} tickSize={4} tickMargin={9.7}
          tick={bottomTick(10.5, '#000')} axisLine={false} tickLine={{ stroke: '#333' }} />
        <YAxis type="number" dataKey="y" domain={yd} allowDataOverflow ticks={dYTicks} interval={0} width={62.7} tickSize={4} tickMargin={10.4}
          tick={rotTick(10.5, '#000')} axisLine={false} tickLine={{ stroke: '#333' }} />
        <ReferenceLine x={lowRiskCount + 0.5} stroke="#333" strokeDasharray="3 2.5" strokeWidth={0.9} />
        <ReferenceLine y={riskCutoff} stroke="#333" strokeDasharray="3 2.5" strokeWidth={0.9} />
        <Scatter data={pts.slice(0, lowRiskCount)} shape={dotShape(LOW_COLOR, 2.5)} isAnimationActive={false} />
        <Scatter data={pts.slice(lowRiskCount)} shape={dotShape(HIGH_COLOR, 2.5)} isAnimationActive={false} />
        <ReferenceArea x1={xd[0]} x2={xd[1]} y1={yd[0]} y2={yd[1]} fill="none" stroke="#444" strokeWidth={1} ifOverflow="visible" />
      </ScatterChart>
    </div>
  );
}

function PanelE() {
  const xd: [number, number] = [-7.27, 212.9];
  const yd: [number, number] = [0.17, 11.05];
  const alive = alivePoints.map(([x, y]) => ({ x, y }));
  const dead = deadPoints.map(([x, y]) => ({ x, y }));
  return (
    <div style={abs(400, 505)}>
      <ScatterChart width={320} height={200} margin={{ top: 10, right: 3.3, bottom: 0, left: 0 }}>
        <XAxis type="number" dataKey="x" domain={xd} allowDataOverflow ticks={dXTicks} interval={0} height={45} tickSize={4} tickMargin={10}
          tick={bottomTick(10.5, '#000')} axisLine={false} tickLine={{ stroke: '#333' }} />
        <YAxis type="number" dataKey="y" domain={yd} allowDataOverflow ticks={eYTicks} interval={0} width={65} tickSize={4} tickMargin={11}
          tick={rotTick(10.5, '#000')} axisLine={false} tickLine={{ stroke: '#333' }} />
        <ReferenceLine x={lowRiskCount + 0.5} stroke="#333" strokeDasharray="3 2.5" strokeWidth={0.9} />
        <Scatter data={alive} shape={dotShape(LOW_COLOR, 2.7)} isAnimationActive={false} />
        <Scatter data={dead} shape={dotShape(HIGH_COLOR, 2.7)} isAnimationActive={false} />
        <ReferenceArea x1={xd[0]} x2={xd[1]} y1={yd[0]} y2={yd[1]} fill="none" stroke="#444" strokeWidth={1} ifOverflow="visible" />
      </ScatterChart>
    </div>
  );
}

function PanelF() {
  const nCol = Math.min(...heatExpr.map((r) => r.length));
  const cols = Array.from({ length: nCol }, (_, i) => ({ col: i }));
  const stackOrder = [...heatGenes.keys()].reverse();
  const annot = [{ name: 'type', low: groupCounts[0], high: groupCounts[1], lowName: groupNames[0], highName: groupNames[1] }];
  const segs = dendroSegments();
  return (
    <>
      <div style={abs(57, 719)}>
        <BarChart width={263} height={9.3} layout="vertical" data={annot} margin={{ top: 0, right: 0, bottom: 0, left: 0 }} barCategoryGap={0}>
          <XAxis type="number" hide domain={[0, groupCounts[0] + groupCounts[1]]} allowDataOverflow />
          <YAxis type="category" dataKey="name" hide />
          <Bar dataKey="low" stackId="a" fill={LOW_COLOR} isAnimationActive={false}>
            <LabelList dataKey="lowName" position="center" fill="#3A2E10" fontSize={8} fontFamily={SERIF} />
          </Bar>
          <Bar dataKey="high" stackId="a" fill={HIGH_COLOR} isAnimationActive={false}>
            <LabelList dataKey="highName" position="center" fill="#3A2E10" fontSize={8} fontFamily={SERIF} />
          </Bar>
        </BarChart>
      </div>
      <div style={abs(57, 736)}>
        <BarChart width={263} height={282} data={cols} margin={{ top: 0, right: 0, bottom: 0, left: 0 }} barCategoryGap={0} barGap={0}>
          <XAxis dataKey="col" hide />
          <YAxis type="number" hide domain={[0, heatGenes.length]} allowDataOverflow />
          {stackOrder.map((gi) => (
            <Bar key={heatGenes[gi]} dataKey={() => 1} stackId="h" isAnimationActive={false}>
              {heatExpr[gi].slice(0, nCol).map((v, ci) => <Cell key={ci} fill={heatColor(v)} stroke={heatColor(v)} strokeWidth={0.4} />)}
            </Bar>
          ))}
        </BarChart>
      </div>
      <div style={abs(20, 736)}>
        <LineChart width={37} height={282} margin={{ top: 0, right: 0, bottom: 0, left: 0 }}>
          <XAxis type="number" dataKey="x" hide domain={[0, 9.18]} reversed allowDataOverflow />
          <YAxis type="number" dataKey="y" hide domain={[0, heatGenes.length]} reversed allowDataOverflow />
          {segs.map((s, i) => (
            <Line key={i} data={s} dataKey="y" type="linear" stroke={i === 1 || i === 4 ? '#6E6E6E' : '#8A8A8A'} strokeWidth={1.3} dot={false} isAnimationActive={false} />
          ))}
        </LineChart>
      </div>
    </>
  );
}

function PanelG() {
  const xd: [number, number] = [-0.0105, 1.0045];
  const yd: [number, number] = [-0.0119, 1.0095];
  const curves = [rocOne, rocTwo, rocThree];
  return (
    <div style={abs(380, 705)}>
      <LineChart width={358} height={332} margin={{ top: 14, right: 5, bottom: 0, left: 0 }}>
        <XAxis type="number" dataKey="x" domain={xd} allowDataOverflow ticks={gTicks} interval={0} height={26.3} tickSize={2.5} tickMargin={4.5}
          tick={bottomTick(8.8, '#4D4D4D', fmt2)} axisLine={false} tickLine={{ stroke: '#555' }} />
        <YAxis type="number" dataKey="y" domain={yd} allowDataOverflow ticks={gTicks} interval={0} width={62.7} tickSize={2.5} tickMargin={1.5}
          tick={leftTick(8.8, '#4D4D4D', fmt2)} axisLine={false} tickLine={{ stroke: '#555' }} />
        <ReferenceLine segment={[{ x: 0, y: 0 }, { x: 1, y: 1 }]} stroke="#C8C8C8" strokeWidth={0.9} />
        {curves.map((c, i) => (
          <Line key={i} data={c.map(([x, y]) => ({ x, y }))} dataKey="y" type="linear" stroke={rocColors[i]} strokeWidth={1.8}
            dot={false} isAnimationActive={false} />
        ))}
        <ReferenceArea x1={xd[0]} x2={xd[1]} y1={yd[0]} y2={yd[1]} fill="none" stroke="#333" strokeWidth={1} ifOverflow="visible" />
      </LineChart>
    </div>
  );
}

/* ================= Overlay texts & legends ================= */
function Txt(props: any) {
  const { x, y, size, anchor = 'start', weight = 'normal', fstyle = 'normal', fill = '#000', family = SERIF, rotate, children } = props;
  return (
    <text x={x} y={y} fontSize={size} textAnchor={anchor} dominantBaseline="central" fontWeight={weight} fontStyle={fstyle}
      fill={fill} fontFamily={family} transform={rotate ? `rotate(${rotate} ${x} ${y})` : undefined}>{children}</text>
  );
}

function Overlay() {
  const gradStops = [3.84, 3.6, 3.4, 3.2, 3.0, 2.8, 2.6, 2.4, 2.14];
  const cbTop = 728;
  const cbH = 119;
  const cbY = (v: number) => cbTop + ((heatScaleMax - v) / (heatScaleMax - heatScaleMin)) * cbH;
  const rowH = 282 / heatGenes.length;
  return (
    <svg width={740} height={1037} style={{ position: 'absolute', left: 0, top: 0, pointerEvents: 'none' }}>
      <defs>
        <linearGradient id="hmgrad" x1="0" y1="0" x2="0" y2="1">
          {gradStops.map((v) => (
            <stop key={v} offset={(heatScaleMax - v) / (heatScaleMax - heatScaleMin)} stopColor={heatColor(v)} />
          ))}
        </linearGradient>
      </defs>
      {/* panel letters */}
      <Txt x={3} y={8.3} size={10.5} weight="bold" family={SANS}>A</Txt>
      <Txt x={419} y={6.8} size={10.5} weight="bold" family={SANS}>B</Txt>
      <Txt x={2.7} y={316.5} size={10.5} weight="bold" family={SANS}>C</Txt>
      <Txt x={419} y={311} size={10.5} weight="bold" family={SANS}>D</Txt>
      <Txt x={419} y={495} size={10.5} weight="bold" family={SANS}>E</Txt>
      <Txt x={2.7} y={711} size={10.5} weight="bold" family={SANS}>F</Txt>
      <Txt x={395.7} y={711} size={10.5} weight="bold" family={SANS}>G</Txt>

      {/* A */}
      <Txt x={18.3} y={148} size={10.5} anchor="middle" rotate={-90}>Coefficients</Txt>
      <Txt x={185.5} y={282.7} size={10.5} anchor="middle">Lambda (log scale)</Txt>
      {lassoGenes.map((g, i) => (
        <g key={g}>
          <line x1={346.5} x2={358.5} y1={104 + i * 17.4} y2={104 + i * 17.4} stroke={lassoColors[i]} strokeWidth={2.6} />
          <Txt x={362} y={104 + i * 17.4} size={9} fstyle="italic">{g}</Txt>
        </g>
      ))}

      {/* B */}
      <Txt x={419.3} y={146.7} size={9.5} anchor="middle" rotate={-90}>Partial Likelihood Deviance</Txt>
      <Txt x={587} y={287} size={9} anchor="middle">Log(λ)</Txt>

      {/* C */}
      <line x1={154.5} x2={171.5} y1={326} y2={326} stroke={HIGH_COLOR} strokeWidth={2.1} />
      <path d="M160.5,326h6M163.5,322.8v6.4" stroke={HIGH_COLOR} strokeWidth={1.3} />
      <Txt x={176} y={326} size={11}>High risk</Txt>
      <line x1={228} x2={245} y1={326} y2={326} stroke={LOW_COLOR} strokeWidth={2.1} />
      <path d="M233.5,326h6M236.5,322.8v6.4" stroke={LOW_COLOR} strokeWidth={1.3} />
      <Txt x={247} y={326} size={11}>Low risk</Txt>
      <Txt x={11.7} y={451} size={19} anchor="middle" rotate={-90}>Survival probability</Txt>
      <Txt x={210} y={581.7} size={14.5} anchor="middle">Time(years)</Txt>
      <Txt x={68} y={469.3} size={16.5} weight="bold">Log-rank</Txt>
      <text x={68} y={490} fontSize={16.5} fontWeight="bold" dominantBaseline="central" fontFamily={SERIF}>
        <tspan fontStyle="italic">P</tspan> = 0.00023
      </text>
      <Txt x={56} y={607} size={14}>Number at risk</Txt>

      {/* D */}
      <Txt x={428.3} y={388} size={11} anchor="middle" rotate={-90}>Risk score</Txt>
      <Txt x={588} y={492.3} size={11} anchor="middle">Patients (increasing risk socre)</Txt>
      <circle cx={474.3} cy={334.3} r={3.4} fill={HIGH_COLOR} />
      <Txt x={485.3} y={334.3} size={11}>High risk</Txt>
      <circle cx={474.3} cy={349} r={3.4} fill={LOW_COLOR} />
      <Txt x={485.3} y={349} size={11}>Low risk</Txt>

      {/* E */}
      <Txt x={431.7} y={587.5} size={11} anchor="middle" rotate={-90}>Survival time (years)</Txt>
      <Txt x={590} y={690.7} size={11} anchor="middle">Patients (increasing risk socre)</Txt>
      <circle cx={476.7} cy={521.7} r={3} fill={HIGH_COLOR} />
      <Txt x={482.3} y={521.7} size={10}>Dead</Txt>
      <circle cx={476.7} cy={534.3} r={3} fill={LOW_COLOR} />
      <Txt x={482.3} y={534.3} size={10}>Alive</Txt>

      {/* F */}
      <Txt x={323} y={723.7} size={9.5} weight="bold">type</Txt>
      {heatGenes.map((g, i) => (
        <Txt key={g} x={323} y={736 + rowH * (i + 0.5)} size={10.5} fstyle="italic">{g}</Txt>
      ))}
      <rect x={373.5} y={cbTop} width={7} height={cbH} fill="url(#hmgrad)" />
      {heatLegendTicks.map((v) => (
        <Txt key={v} x={385.5} y={cbY(v)} size={10} fill="#222">{String(v)}</Txt>
      ))}

      {/* G */}
      <Txt x={411.7} y={864.8} size={13.5} anchor="middle" rotate={-90}>Sensitivity</Txt>
      <Txt x={588} y={1029} size={13.5} anchor="middle">1-Specificity</Txt>
      {rocLabels.map((l, i) => {
        const y = [949.5, 968.5, 988.3][i];
        return (
          <g key={l}>
            <line x1={604.5} x2={617} y1={y} y2={y} stroke={rocColors[i]} strokeWidth={1.8} />
            <Txt x={622.3} y={y} size={10.5} weight="bold">{l}</Txt>
          </g>
        );
      })}
    </svg>
  );
}

export default function App() {
  return (
    <div style={{ position: 'absolute', left: 0, top: 0, width: 740, height: 1037, background: '#fff', overflow: 'hidden' }}>
      <PanelA />
      <PanelB />
      <PanelC />
      <RiskTable />
      <PanelD />
      <PanelE />
      <PanelF />
      <PanelG />
      <Overlay />
    </div>
  );
}
